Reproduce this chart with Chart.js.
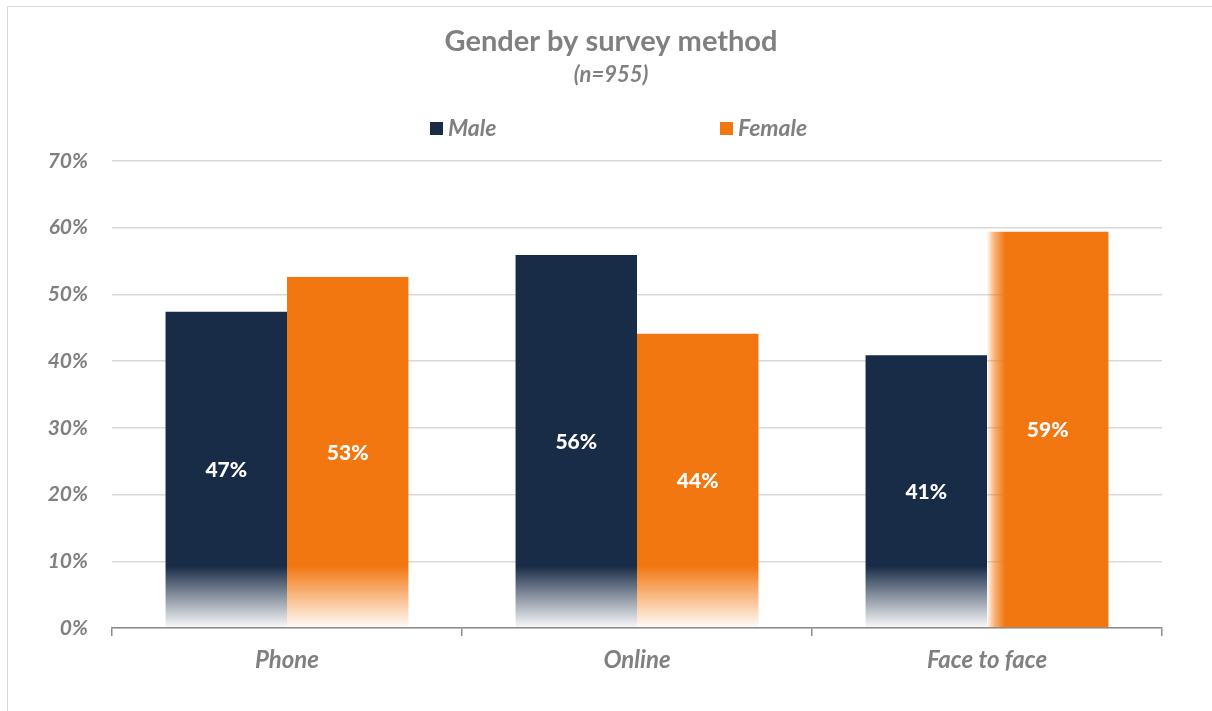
<!DOCTYPE html>
<html>
<head>
<meta charset="utf-8">
<script src="https://cdn.jsdelivr.net/npm/chart.js@4.4.1/dist/chart.umd.min.js"></script>
<style>
  html, body { margin: 0; padding: 0; background: #fff; }
  #wrap { position: relative; width: 1212px; height: 711px; }
  #frame { position: absolute; left: 7px; top: 6px; right: 0; bottom: 0;
           border-left: 1px solid #d9d9d9; border-top: 1px solid #d9d9d9; pointer-events: none; }
</style>
</head>
<body>
<div id="wrap">
  <canvas id="chart" width="1212" height="711"></canvas>
  <div id="frame"></div>
</div>
<script>
const categories = ['Phone', 'Online', 'Face to face'];
const maleValues = [47.4, 55.9, 40.9];
const femaleValues = [52.6, 44.1, 59.4];
const yTicks = [0, 10, 20, 30, 40, 50, 60, 70];

const navy = [24, 43, 71];
const orange = [242, 119, 17];
const grey = '#808080';
const font = 'Lato, "Noto Sans", sans-serif';

const rgba = (c, a) => `rgba(${c[0]},${c[1]},${c[2]},${a})`;

// bottom fade, except the female face-to-face bar which fades on its left edge
const barFill = (color) => (ctx) => {
    const chart = ctx.chart;
    const area = chart.chartArea;
    if (!area) return rgba(color, 1);
    const c = chart.ctx;
    if (ctx.datasetIndex === 1 && ctx.dataIndex === 2) {
        const x0 = chart.scales.x.getPixelForValue(ctx.dataIndex);
        const g = c.createLinearGradient(x0, 0, x0 + 18, 0);
        g.addColorStop(0, rgba(color, 0.04));
        g.addColorStop(0.4, rgba(color, 0.55));
        g.addColorStop(1, rgba(color, 1));
        return g;
    }
    const g = c.createLinearGradient(0, area.bottom, 0, area.bottom - 62);
    g.addColorStop(0, rgba(color, 0.02));
    g.addColorStop(0.45, rgba(color, 0.45));
    g.addColorStop(1, rgba(color, 1));
    return g;
};

const valueLabels = {
    id: 'valueLabels',
    afterDatasetsDraw(chart) {
        const c = chart.ctx;
        c.save();
        c.fillStyle = '#ffffff';
        c.font = `900 21px ${font}`;
        c.textAlign = 'center';
        c.textBaseline = 'middle';
        chart.data.datasets.forEach((ds, i) => {
            chart.getDatasetMeta(i).data.forEach((bar, j) => {
                const { x, y, base } = bar.getProps(['x', 'y', 'base'], true);
                c.fillText(Math.round(ds.data[j]) + '%', x, (y + base) / 2 + 1);
            });
        });
        c.restore();
    }
};

const header = {
    id: 'header',
    afterDraw(chart) {
        const c = chart.ctx;
        const cx = 611;
        c.save();
        c.fillStyle = grey;
        c.textAlign = 'center';
        c.textBaseline = 'middle';
        c.font = `bold 29px ${font}`;
        c.fillText('Gender by survey method', cx, 42);
        c.font = `italic bold 22px ${font}`;
        c.fillText('(n=955)', cx, 75);

        // legend
        const items = [
            { label: 'Male', color: rgba(navy, 1), x: 430 },
            { label: 'Female', color: rgba(orange, 1), x: 720 }
        ];
        c.textAlign = 'left';
        c.font = `italic bold 23px ${font}`;
        items.forEach(it => {
            c.fillStyle = it.color;
            c.fillRect(it.x, 122, 13, 13);
            c.fillStyle = grey;
            c.fillText(it.label, it.x + 18, 129);
        });
        c.restore();
    }
};

new Chart(document.getElementById('chart'), {
    type: 'bar',
    data: {
        labels: categories,
        datasets: [
            { label: 'Male', data: maleValues, backgroundColor: barFill(navy) },
            { label: 'Female', data: femaleValues, backgroundColor: barFill(orange) }
        ]
    },
    options: {
        responsive: false,
        animation: false,
        categoryPercentage: 0.694,
        barPercentage: 1,
        layout: { padding: { top: 161, right: 50, bottom: 0, left: 0 } },
        plugins: {
            legend: { display: false },
            title: { display: false },
            tooltip: { enabled: false }
        },
        scales: {
            x: {
                offset: true,
                afterFit: (s) => { s.height = 83; },
                grid: { display: true, offset: true, drawOnChartArea: false, drawTicks: true, tickLength: 8, color: '#8c8c8c', lineWidth: 1.5 },
                border: { display: true, color: '#8c8c8c', width: 1.5 },
                ticks: { color: grey, padding: 10, font: { family: font, size: 24, style: 'italic', weight: 'bold' } }
            },
            y: {
                min: 0,
                max: 70,
                afterFit: (s) => { s.width = 112; },
                afterBuildTicks: (s) => { s.ticks = yTicks.map(v => ({ value: v })); },
                grid: { color: '#d9d9d9', lineWidth: 1.5, drawTicks: false },
                border: { display: false },
                ticks: {
                    color: grey,
                    padding: 24,
                    font: { family: font, size: 21, style: 'italic', weight: 'bold' },
                    callback: (v) => v + '%'
                }
            }
        }
    },
    plugins: [valueLabels, header]
});
</script>
</body>
</html>
